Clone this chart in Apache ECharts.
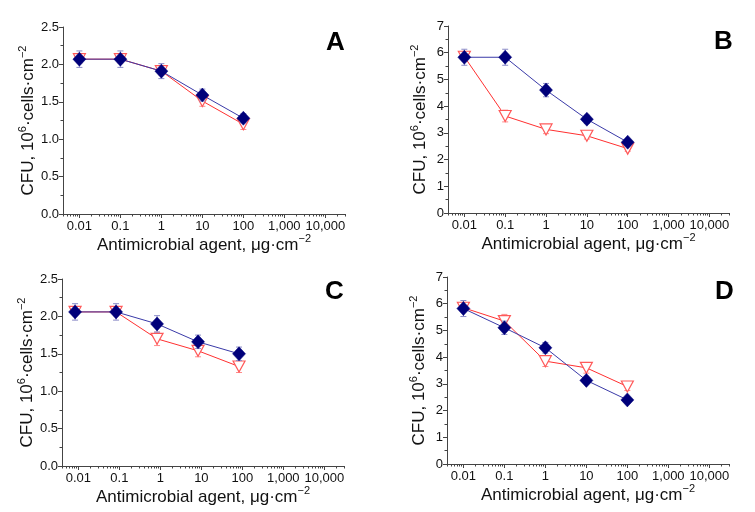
<!DOCTYPE html>
<html>
<head>
<meta charset="utf-8">
<script src="https://cdn.jsdelivr.net/npm/echarts@6/dist/echarts.min.js"></script>
<style>
html,body{margin:0;padding:0;background:#fff;}
#chart{width:755px;height:512px;}
</style>
</head>
<body>
<div id="chart"></div>
<script>
// ---- Data (concentrations in µg·cm⁻², CFU in 10^6 cells·cm⁻²) ----
const concAB = [0.01, 0.1, 1, 10, 100];
const concC = [0.0083, 0.083, 0.83, 8.3, 83];
const concD = [0.01, 0.1, 1, 10, 100];

const xTickLabels = ['0.01', '0.1', '1', '10', '100', '1,000', '10,000'];
const xTickExponents = [-2, -1, 0, 1, 2, 3, 4];

const A_blue = [2.07, 2.07, 1.91, 1.59, 1.28];
const A_blueErr = [0.11, 0.11, 0.10, 0.08, 0.06];
const A_red = [2.07, 2.07, 1.91, 1.51, 1.20];
const A_redErr = [0.05, 0.05, 0.05, 0.07, 0.07];

const B_blue = [5.83, 5.83, 4.60, 3.51, 2.65];
const B_blueErr = [0.30, 0.30, 0.25, 0.15, 0.10];
const B_red = [5.85, 3.63, 3.13, 2.89, 2.41];
const B_redErr = [0.15, 0.22, 0.16, 0.12, 0.10];

const C_blue = [2.06, 2.06, 1.90, 1.66, 1.50];
const C_blueErr = [0.11, 0.11, 0.11, 0.09, 0.09];
const C_red = [2.06, 2.06, 1.70, 1.54, 1.33];
const C_redErr = [0.05, 0.05, 0.09, 0.08, 0.08];

const D_blue = [5.82, 5.10, 4.35, 3.13, 2.40];
const D_blueErr = [0.30, 0.25, 0.20, 0.10, 0.08];
const D_red = [5.85, 5.35, 3.85, 3.60, 2.90];
const D_redErr = [0.10, 0.25, 0.20, 0.20, 0.15];

const panelLetters = ['A', 'B', 'C', 'D'];
const yMax = [2.5, 7, 2.5, 7];
const yInterval = [0.5, 1, 0.5, 1];

// ---- Styling ----
const FONT = 'Liberation Sans, Arial, sans-serif';
const AXIS_COLOR = '#444';
const LABEL_COLOR = '#111';
const BLUE_LINE = '#3a3aa8';
const BLUE_FILL = '#00007a';
const BLUE_ERR = '#8c8cc8';
const RED_LINE = '#ff3030';
const RED_MARK = '#ff5a5a';
const RED_ERR = '#ff8a8a';

const grids = [
  {left: 63, top: 27, width: 282, height: 187},
  {left: 448, top: 26, width: 281, height: 187},
  {left: 62, top: 279, width: 282, height: 187},
  {left: 447, top: 277, width: 282, height: 187}
];
const letterPos = [
  {left: 321, top: 25}, {left: 709, top: 24},
  {left: 320, top: 274}, {left: 710, top: 274}
];

const panels = [
  {conc: concAB, blue: A_blue, blueErr: A_blueErr, red: A_red, redErr: A_redErr},
  {conc: concAB, blue: B_blue, blueErr: B_blueErr, red: B_red, redErr: B_redErr},
  {conc: concC, blue: C_blue, blueErr: C_blueErr, red: C_red, redErr: C_redErr},
  {conc: concD, blue: D_blue, blueErr: D_blueErr, red: D_red, redErr: D_redErr}
];

const X_MIN = -2.4, X_MAX = 4.48;
const minorVals = [];
for (let e = -3; e <= 4; e++) {
  for (let k = 2; k <= 9; k++) {
    const v = e + Math.log10(k);
    if (v > X_MIN && v < X_MAX) minorVals.push(v);
  }
}

const nameStyle = {
  rich: {
    n: {fontSize: 17, fontFamily: FONT, color: LABEL_COLOR, lineHeight: 22},
    s: {fontSize: 11, fontFamily: FONT, color: LABEL_COLOR, lineHeight: 11, verticalAlign: 'top'}
  }
};

const option = {
  animation: false,
  backgroundColor: '#fff',
  title: panelLetters.map((t, i) => ({
    text: t, left: letterPos[i].left, top: letterPos[i].top,
    textStyle: {fontSize: 26, fontWeight: 'bold', fontFamily: FONT, color: '#000'}
  })),
  grid: grids.map(g => Object.assign({containLabel: false}, g)),
  xAxis: [],
  yAxis: [],
  series: []
};

panels.forEach((p, i) => {
  option.xAxis.push({
    type: 'value', gridIndex: i, min: X_MIN, max: X_MAX, position: 'bottom',
    name: '{n|Antimicrobial agent, μg·cm}{s|−2}',
    nameLocation: 'middle', nameGap: 18,
    nameTextStyle: nameStyle,
    axisLine: {show: true, onZero: false, lineStyle: {color: AXIS_COLOR, width: 1}},
    axisTick: {show: true, length: 4, customValues: xTickExponents, lineStyle: {color: AXIS_COLOR}},
    axisLabel: {
      customValues: xTickExponents, fontSize: 13, fontFamily: FONT, color: LABEL_COLOR, margin: 6,
      formatter: v => xTickLabels[xTickExponents.indexOf(Math.round(v))]
    },
    splitLine: {show: false}
  });
  option.xAxis.push({
    type: 'value', gridIndex: i, min: X_MIN, max: X_MAX, position: 'bottom',
    axisLine: {show: false, onZero: false},
    axisTick: {show: true, length: 2.5, customValues: minorVals, lineStyle: {color: AXIS_COLOR}},
    axisLabel: {show: false},
    splitLine: {show: false}
  });
  option.yAxis.push({
    type: 'value', gridIndex: i, min: 0, max: yMax[i], interval: yInterval[i], position: 'left',
    name: '{n|CFU, 10}{s|6}{n|·cells·cm}{s|−2}',
    nameLocation: 'middle', nameGap: 17,
    nameTextStyle: nameStyle,
    axisLine: {show: true, onZero: false, lineStyle: {color: AXIS_COLOR, width: 1}},
    axisTick: {show: true, length: 4, lineStyle: {color: AXIS_COLOR}},
    minorTick: {show: true, splitNumber: 2, length: 2.5, lineStyle: {color: AXIS_COLOR}},
    axisLabel: {
      fontSize: 13, fontFamily: FONT, color: LABEL_COLOR, margin: 4,
      formatter: v => yInterval[i] < 1 ? v.toFixed(1) : String(v)
    },
    splitLine: {show: false}
  });

  const xIdx = i * 2;
  const makeErr = (vals, errs, color, z) => ({
    type: 'custom', xAxisIndex: xIdx, yAxisIndex: i, z: z, silent: true,
    data: p.conc.map((c, j) => [Math.log10(c), vals[j] - errs[j], vals[j] + errs[j]]),
    renderItem: (params, api) => {
      const x = api.value(0);
      const lo = api.coord([x, api.value(1)]);
      const hi = api.coord([x, api.value(2)]);
      const cw = 3;
      const st = {stroke: color, lineWidth: 1};
      return {type: 'group', children: [
        {type: 'line', shape: {x1: lo[0], y1: lo[1], x2: hi[0], y2: hi[1]}, style: st},
        {type: 'line', shape: {x1: lo[0] - cw, y1: lo[1], x2: lo[0] + cw, y2: lo[1]}, style: st},
        {type: 'line', shape: {x1: hi[0] - cw, y1: hi[1], x2: hi[0] + cw, y2: hi[1]}, style: st}
      ]};
    }
  });

  option.series.push(makeErr(p.red, p.redErr, RED_ERR, 1));
  option.series.push({
    type: 'line', xAxisIndex: xIdx, yAxisIndex: i, z: 2,
    data: p.conc.map((c, j) => [Math.log10(c), p.red[j]]),
    symbol: 'triangle', symbolRotate: 180, symbolSize: [12, 11],
    lineStyle: {color: RED_LINE, width: 1},
    itemStyle: {color: '#fff', borderColor: RED_MARK, borderWidth: 1.2},
    emphasis: {disabled: true}
  });
  option.series.push(makeErr(p.blue, p.blueErr, BLUE_ERR, 3));
  option.series.push({
    type: 'line', xAxisIndex: xIdx, yAxisIndex: i, z: 4,
    data: p.conc.map((c, j) => [Math.log10(c), p.blue[j]]),
    symbol: 'diamond', symbolSize: [13, 14],
    lineStyle: {color: BLUE_LINE, width: 1},
    itemStyle: {color: BLUE_FILL, borderColor: BLUE_FILL, borderWidth: 0.5},
    emphasis: {disabled: true}
  });
});

const chart = echarts.init(document.getElementById('chart'), null, {renderer: 'canvas'});
chart.setOption(option);
</script>
</body>
</html>
